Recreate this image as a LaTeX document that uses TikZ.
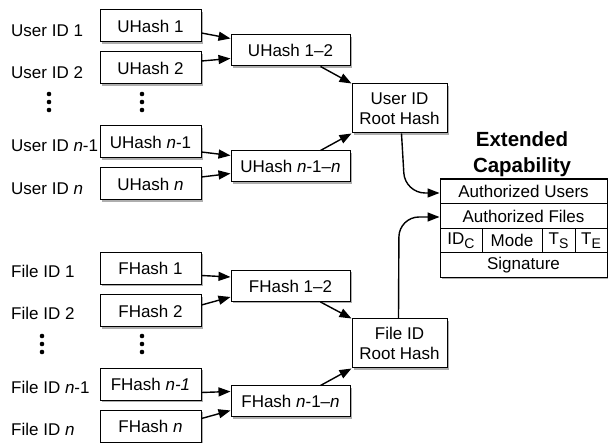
\documentclass[tikz,border=0pt]{standalone}
\usepackage{fontspec}
\setmainfont{Liberation Sans}
\usetikzlibrary{shadows,arrows.meta,calc}
\newcommand{\mysub}[1]{\raisebox{-0.45ex}{\fontsize{14}{14}\selectfont #1}}
\begin{document}
\begin{tikzpicture}[x=1pt,y=-1pt,
  font=\fontsize{17}{20}\selectfont,
  shad/.style={drop shadow={shadow xshift=2pt,shadow yshift=-2pt,opacity=0.45,fill=black!70}},
  hashbox/.style={draw,line width=1pt,fill=white,inner sep=0pt,minimum width=101pt,minimum height=32pt,shad},
  midbox/.style={draw,line width=1pt,fill=white,inner sep=0pt,minimum width=119pt,minimum height=31pt,shad},
  rootbox/.style={draw,line width=1pt,fill=white,inner sep=0pt,minimum width=95pt,minimum height=49pt,align=center,shad},
  lbl/.style={anchor=west,inner sep=0pt},
  cell/.style={draw,line width=1pt,fill=white,inner sep=0pt,minimum height=24.5pt},
  conn/.style={line width=1.4pt,-{Triangle[length=12pt,width=9pt]}}]
\useasboundingbox (0,0) rectangle (608,443);

% user side
\node[lbl] (lu1) at (11,31) {User ID 1};
\node[lbl] (lu2) at (11,73) {User ID 2};
\node[lbl] (lu3) at (11,146) {User ID \textit{n}-1};
\node[lbl] (lu4) at (11,189) {User ID \textit{n}};
\node[hashbox] (u1) at (150.5,26) {UHash 1};
\node[hashbox] (u2) at (150.5,68) {UHash 2};
\node[hashbox] (u3) at (150.5,142) {UHash \textit{n}-1};
\node[hashbox] (u4) at (150.5,184) {UHash \textit{n}};
\foreach \yy in {94,102,110}{\fill (49,\yy) circle (2.3pt); \fill (142,\yy) circle (2.3pt);}
\node[midbox] (u12) at (290.5,50.5) {UHash 1--2};
\node[midbox] (unn) at (290.5,166.5) {UHash \textit{n}-1--\textit{n}};
\node[rootbox] (ur) at (399.5,108.5) {User ID\\Root Hash};

% file side
\node[lbl] (lf1) at (11,271) {File ID 1};
\node[lbl] (lf2) at (11,313) {File ID 2};
\node[lbl] (lf3) at (11,387) {File ID \textit{n}-1};
\node[lbl] (lf4) at (11,429) {File ID \textit{n}};
\node[hashbox] (f1) at (150.5,268.5) {FHash 1};
\node[hashbox] (f2) at (150.5,311) {FHash 2};
\node[hashbox] (f3) at (150.5,384.5) {FHash \textit{n-1}};
\node[hashbox] (f4) at (150.5,426.5) {FHash \textit{n}};
\foreach \yy in {336,344,352}{\fill (42,\yy) circle (2.3pt); \fill (142,\yy) circle (2.3pt);}
\node[midbox] (f12) at (290.5,286) {FHash 1--2};
\node[midbox] (fnn) at (290.5,401.5) {FHash \textit{n}-1--\textit{n}};
\node[rootbox] (fr) at (399.5,343.5) {File ID\\Root Hash};

% capability
\node[align=center,font=\fontsize{20.5}{26}\selectfont\bfseries] (title) at (522,154) {Extended\\Capability};
\node[draw,line width=1pt,fill=white,inner sep=0pt,minimum width=167pt,minimum height=98pt,shad] (cap) at (523.5,228) {};
\node[cell,minimum width=167pt] (au) at (523.5,191.5) {Authorized Users};
\node[cell,minimum width=167pt] (af) at (523.5,216) {Authorized Files};
\node[cell,minimum width=42pt] (idc) at (461,240.5) {ID\mysub{C}};
\node[cell,minimum width=60pt] (mode) at (512,240.5) {Mode};
\node[cell,minimum width=33pt] (ts) at (558.5,240.5) {T\mysub{S}};
\node[cell,minimum width=32pt] (te) at (591,240.5) {T\mysub{E}};
\node[cell,minimum width=167pt] (sig) at (523.5,265) {Signature};

% connectors
\draw[conn] ($(u1.east)+(0,7)$) -- ($(u12.west)+(0,-12)$);
\draw[conn] ($(u2.east)+(0,-7)$) -- ($(u12.west)+(0,8)$);
\draw[conn] ($(u3.east)+(0,10)$) -- ($(unn.west)+(0,-11)$);
\draw[conn] ($(u4.east)+(0,-7)$) -- ($(unn.west)+(0,7)$);
\draw[conn] ($(u12.south)+(30,0)$) -- (ur.north west);
\draw[conn] ($(unn.north)+(30,0)$) -- (ur.south west);
\draw[conn] ($(f1.east)+(0,7)$) -- ($(f12.west)+(0,-9)$);
\draw[conn] ($(f2.east)+(0,-6)$) -- ($(f12.west)+(0,11)$);
\draw[conn] ($(f3.east)+(0,8)$) -- ($(fnn.west)+(0,-10)$);
\draw[conn] ($(f4.east)+(0,-8)$) -- ($(fnn.west)+(0,9)$);
\draw[conn] ($(f12.south)+(30,0)$) -- (fr.north west);
\draw[conn] ($(fnn.north)+(30,0)$) -- (fr.south west);
\draw[conn,rounded corners=20pt] ($(ur.south)+(2,0)$) -- (405,193) -- ($(au.west)+(0,1.5)$);
\draw[conn,rounded corners=20pt] ($(fr.north)+(-1,0)$) -- (399,217) -- ($(af.west)+(0,1)$);
\end{tikzpicture}
\end{document}
